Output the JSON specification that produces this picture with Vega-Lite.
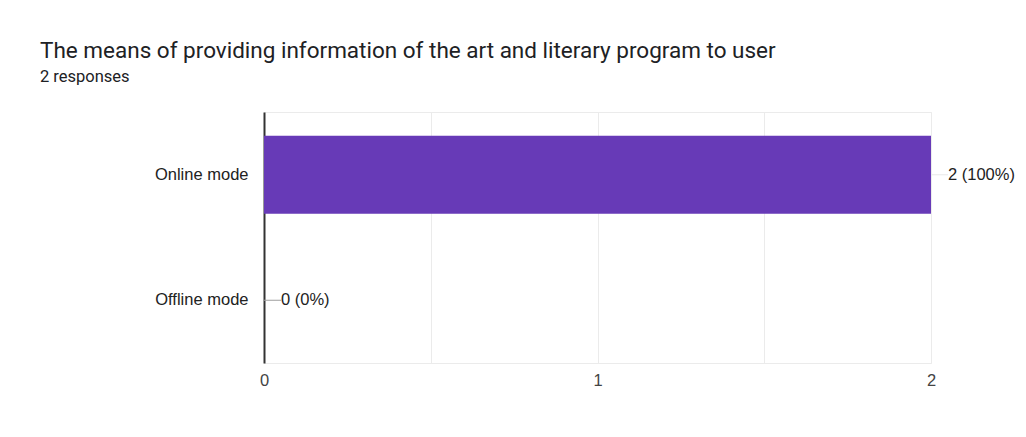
{
  "$schema": "https://vega.github.io/schema/vega-lite/v6.json",
  "width": 667,
  "height": 251,
  "autosize": {"type": "none"},
  "padding": {"left": 264, "top": 112, "right": 95, "bottom": 74},
  "background": "white",
  "title": {
    "text": "The means of providing information of the art and literary program to user",
    "subtitle": "2 responses",
    "anchor": "start",
    "frame": "group",
    "dx": -224,
    "font": "Roboto",
    "fontSize": 22.5,
    "fontWeight": "normal",
    "color": "#202124",
    "subtitleFont": "Roboto",
    "subtitleFontSize": 16.5,
    "subtitleColor": "#202124",
    "subtitlePadding": 6,
    "offset": 27
  },
  "data": {
    "values": [
      {"mode": "Online mode", "count": 2, "label": "2 (100%)"},
      {"mode": "Offline mode", "count": 0, "label": "0 (0%)"}
    ]
  },
  "encoding": {
    "y": {
      "field": "mode",
      "type": "nominal",
      "sort": null,
      "title": null,
      "scale": {"paddingInner": 0.38, "paddingOuter": 0.19},
      "axis": {
        "domainColor": "#333333",
        "domainWidth": 2,
        "ticks": false,
        "labelPadding": 16,
        "labelFont": "Liberation Sans",
        "labelFontSize": 16.5,
        "labelColor": "#222222",
        "grid": false
      }
    },
    "x": {
      "field": "count",
      "type": "quantitative",
      "title": null,
      "scale": {"domain": [0, 2], "nice": false},
      "axis": {
        "values": [0, 0.5, 1, 1.5, 2],
        "labelExpr": "datum.value % 1 === 0 ? format(datum.value, 'd') : ''",
        "labelOverlap": false,
        "labelFlush": false,
        "domain": false,
        "ticks": false,
        "gridColor": "#ebebeb",
        "labelPadding": 9,
        "labelFont": "Liberation Sans",
        "labelFontSize": 16.5,
        "labelColor": "#444444"
      }
    }
  },
  "layer": [
    {"mark": {"type": "bar", "color": "#673ab7"}},
    {
      "mark": {"type": "rule", "x2Offset": 17},
      "encoding": {
        "x2": {"field": "count"},
        "color": {"condition": {"test": "datum.count == 0", "value": "#9e9e9e"}, "value": "#e8e8e8"}
      }
    },
    {
      "mark": {"type": "text", "align": "left", "dx": 17, "font": "Liberation Sans", "fontSize": 16.5, "color": "#222222"},
      "encoding": {"text": {"field": "label"}}
    }
  ],
  "config": {
    "view": {"stroke": "#ebebeb"}
  }
}
